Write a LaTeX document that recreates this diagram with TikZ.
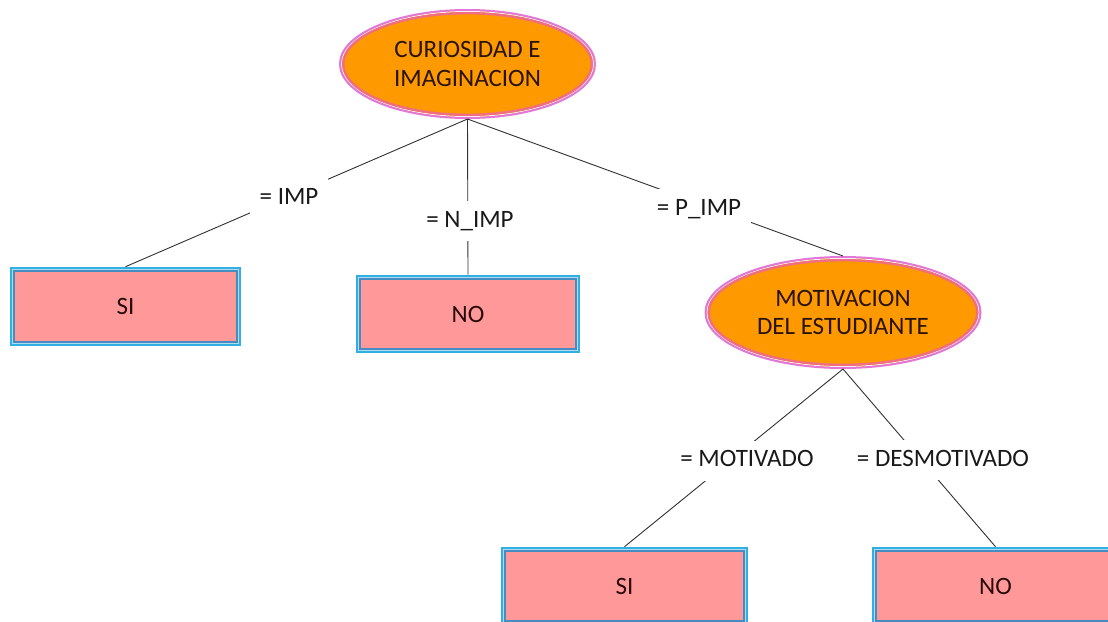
\documentclass[tikz,border=0pt]{standalone}
\usepackage{fontspec}
\setmainfont{Carlito}
\usetikzlibrary{shapes.geometric}

\definecolor{ovalfill}{RGB}{255,153,0}
\definecolor{ovalout}{RGB}{225,120,215}
\definecolor{ovalin}{RGB}{240,110,130}
\definecolor{ovaltext}{RGB}{40,20,10}
\definecolor{leaffill}{RGB}{255,153,153}
\definecolor{leafout}{RGB}{50,175,225}
\definecolor{leafmid}{RGB}{175,220,240}
\definecolor{leafin}{RGB}{70,140,195}
\definecolor{leaftext}{RGB}{40,10,10}
\definecolor{wire}{RGB}{50,50,50}

\tikzset{
  txt/.style={font=\fontsize{25}{28.5}\selectfont},
  % attribute node: orange ellipse with a pink double rim
  oval/.style 2 args={ellipse, txt, align=center, inner sep=0pt,
    minimum width=#1pt, minimum height=#2pt,
    fill=ovalfill, draw=ovalout, line width=2pt, text=ovaltext,
    path picture={
      \draw[white, line width=1pt] (path picture bounding box.center)
        ellipse [x radius=#1pt/2-1.5pt, y radius=#2pt/2-1.5pt];
      \draw[ovalin, line width=2.4pt] (path picture bounding box.center)
        ellipse [x radius=#1pt/2-3.2pt, y radius=#2pt/2-3.2pt];
    }},
  % decision leaf: pink box with a blue triple frame
  leaf/.style 2 args={rectangle, txt, inner sep=0pt,
    minimum width=#1pt, minimum height=#2pt,
    fill=leaffill, draw=leafout, line width=2.6pt, text=leaftext,
    path picture={
      \draw[leafmid, line width=1pt]
        ([shift={(1.8pt,-1.8pt)}]path picture bounding box.north west) rectangle
        ([shift={(-1.8pt,1.8pt)}]path picture bounding box.south east);
      \draw[leafin, line width=2pt]
        ([shift={(3.3pt,-3.3pt)}]path picture bounding box.north west) rectangle
        ([shift={(-3.3pt,3.3pt)}]path picture bounding box.south east);
    }},
  branch/.style={draw=wire, line width=0.9pt},
  cond/.style={txt, fill=white, text=black!90, inner xsep=10pt, inner ysep=9pt,
    text height=17pt, text depth=5pt},
}

\begin{document}
\begin{tikzpicture}[x=1pt, y=-1pt]
  \fill[white] (0,0) rectangle (1108,621);
  \clip (0,0) rectangle (1108,621);
  \useasboundingbox (0,0) rectangle (1108,621);

  % tree nodes
  \node[oval={255}{108}] (root) at (467.5,64) {CURIOSIDAD E\\IMAGINACION};
  \node[oval={275}{111}] (mot) at (843,312.5) {MOTIVACION\\DEL ESTUDIANTE};

  \node[leaf={229}{77}] (si1) at (125.5,306.5) {SI};
  \node[leaf={222}{76}] (no1) at (468,314) {NO};
  \node[leaf={245}{76}] (si2) at (624.5,586) {SI};
  \node[leaf={245}{76}] (no2) at (995.5,586) {NO};

  % branches
  \draw[branch] (root.south) -- (si1.north);
  \draw[branch] (root.south) -- (no1.north);
  \draw[branch] (root.south) -- (mot.north);
  \draw[branch] (mot.south) -- (si2.north);
  \draw[branch] (mot.south) -- (no2.north);

  % branch conditions
  \node[cond] (cimp)  at (289,198) {= IMP};
  \node[cond] (cnimp) at (470,221) {= N\_IMP};
  \node[cond] (cpimp) at (699,209) {= P\_IMP};
  \node[cond] (cmot)  at (747,460.5) {= MOTIVADO};
  \node[cond] (cdes)  at (943,460) {= DESMOTIVADO};
\end{tikzpicture}
\end{document}
